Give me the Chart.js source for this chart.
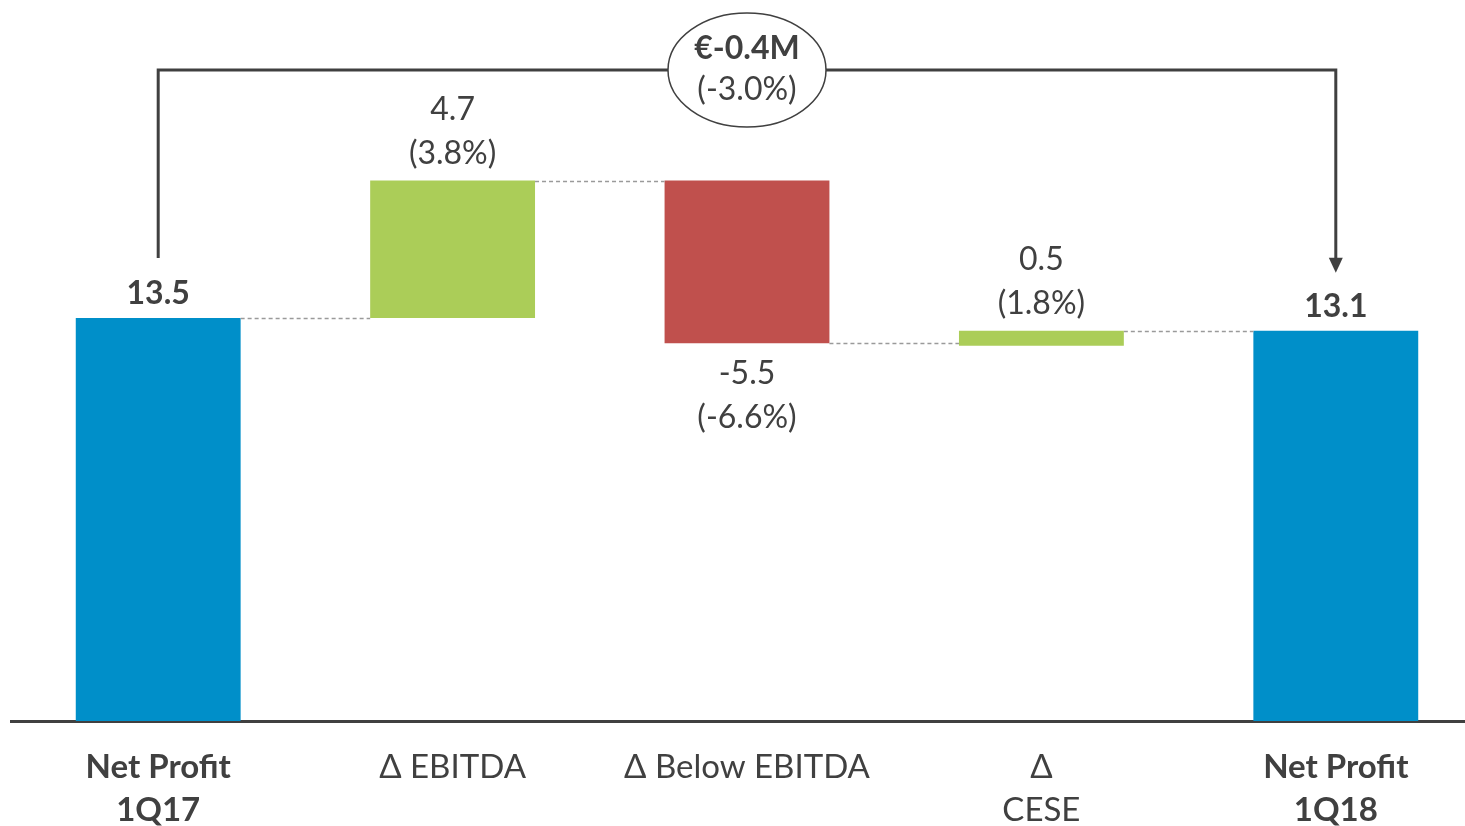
<!DOCTYPE html>
<html>
<head>
<meta charset="utf-8">
<script src="https://cdn.jsdelivr.net/npm/chart.js@4.4.1/dist/chart.umd.min.js"></script>
<style>
  html, body { margin: 0; padding: 0; background: #fff; overflow: hidden; }
  #wrap { position: relative; width: 1483px; height: 826px; }
</style>
</head>
<body>
<div id="wrap"><canvas id="chart"></canvas></div>
<script>
// --- Data ---
const categories = [['Net Profit', '1Q17'], ['Δ EBITDA'], ['Δ Below EBITDA'], ['Δ', 'CESE'], ['Net Profit', '1Q18']];
const values = [13.5, 4.7, -5.5, 0.5, 13.1];
const percents = ['', '(3.8%)', '(-6.6%)', '(1.8%)', ''];
const barLow = [0, 13.5, 12.65, 12.57, 0];
const barHigh = [13.5, 18.1, 18.1, 13.07, 13.07];
const barColors = ['#008FC9', '#ABCD58', '#C0504D', '#ABCD58', '#008FC9'];
const totalChange = '€-0.4M';
const totalPct = '(-3.0%)';

const TEXT = '#404040';
const FONT = 'Lato, "Open Sans", sans-serif';

// --- Helpers ---
function isTotal(i) { return i === 0 || i === values.length - 1; }

const waterfallDeco = {
    id: 'waterfallDeco',
    afterDatasetsDraw(chart) {
        const ctx = chart.ctx;
        const x = chart.scales.x, y = chart.scales.y;
        const bars = chart.getDatasetMeta(0).data;

        // dashed connectors between bars (end level of each bar)
        ctx.save();
        ctx.strokeStyle = '#9a9a9a';
        ctx.lineWidth = 1.5;
        ctx.setLineDash([4, 3]);
        for (let i = 0; i < bars.length - 1; i++) {
            const level = values[i] < 0 ? barLow[i] : barHigh[i];
            const yy = Math.round(y.getPixelForValue(level)) + 0.5;
            ctx.beginPath();
            ctx.moveTo(bars[i].x + bars[i].width / 2, yy);
            ctx.lineTo(bars[i + 1].x - bars[i + 1].width / 2, yy);
            ctx.stroke();
        }
        ctx.restore();

        // value labels
        ctx.save();
        ctx.fillStyle = TEXT;
        ctx.textAlign = 'center';
        ctx.textBaseline = 'middle';
        bars.forEach((bar, i) => {
            const top = y.getPixelForValue(barHigh[i]);
            const bottom = y.getPixelForValue(barLow[i]);
            if (isTotal(i)) {
                ctx.font = 'bold 32px ' + FONT;
                ctx.fillText(values[i].toFixed(1), bar.x, top - 24);
            } else if (values[i] >= 0) {
                ctx.font = '32px ' + FONT;
                ctx.fillText(values[i].toFixed(1), bar.x, top - 71);
                ctx.fillText(percents[i], bar.x, top - 27);
            } else {
                ctx.font = '32px ' + FONT;
                ctx.fillText(values[i].toFixed(1), bar.x, bottom + 30);
                ctx.fillText(percents[i], bar.x, bottom + 74);
            }
        });
        ctx.restore();

        // bracket with arrow from first to last total
        const first = bars[0], last = bars[bars.length - 1];
        const lineY = 70;
        ctx.save();
        ctx.strokeStyle = TEXT;
        ctx.fillStyle = TEXT;
        ctx.lineWidth = 3;
        ctx.beginPath();
        ctx.moveTo(first.x, y.getPixelForValue(barHigh[0]) - 60);
        ctx.lineTo(first.x, lineY);
        ctx.lineTo(last.x, lineY);
        ctx.lineTo(last.x, y.getPixelForValue(barHigh[4]) - 72);
        ctx.stroke();
        const tipY = y.getPixelForValue(barHigh[4]) - 58;
        ctx.beginPath();
        ctx.moveTo(last.x - 7, tipY - 15);
        ctx.lineTo(last.x + 7, tipY - 15);
        ctx.lineTo(last.x, tipY);
        ctx.closePath();
        ctx.fill();

        // ellipse with total change
        const cx = x.getPixelForValue(2);
        ctx.beginPath();
        ctx.ellipse(cx, lineY, 79, 57, 0, 0, Math.PI * 2);
        ctx.fillStyle = '#fff';
        ctx.fill();
        ctx.lineWidth = 1.5;
        ctx.stroke();
        ctx.fillStyle = TEXT;
        ctx.textAlign = 'center';
        ctx.textBaseline = 'middle';
        ctx.font = 'bold 32px ' + FONT;
        ctx.fillText(totalChange, cx, 49);
        ctx.font = '32px ' + FONT;
        ctx.fillText(totalPct, cx, 90);
        ctx.restore();
    }
};

new Chart(document.getElementById('chart'), {
    type: 'bar',
    data: {
        labels: categories,
        datasets: [{
            data: barLow.map((lo, i) => [lo, barHigh[i]]),
            backgroundColor: barColors,
            borderWidth: 0,
            barPercentage: 0.56,
            categoryPercentage: 1.0
        }]
    },
    options: {
        responsive: true,
        maintainAspectRatio: false,
        animation: false,
        layout: { padding: { left: 11, right: 0, top: 0, bottom: 0 } },
        plugins: { legend: { display: false }, tooltip: { enabled: false } },
        scales: {
            x: {
                grid: { display: false, drawTicks: false },
                border: { display: true, color: TEXT, width: 3 },
                afterFit: (axis) => { axis.height = 105; },
                ticks: {
                    color: TEXT,
                    padding: 25,
                    maxRotation: 0,
                    autoSkip: false,
                    font: (c) => ({ family: FONT, size: 33, lineHeight: 1.31, weight: isTotal(c.index) ? 'bold' : 'normal' })
                }
            },
            y: {
                display: false,
                min: 0,
                max: 24.15
            }
        }
    },
    plugins: [waterfallDeco]
});
</script>
</body>
</html>
